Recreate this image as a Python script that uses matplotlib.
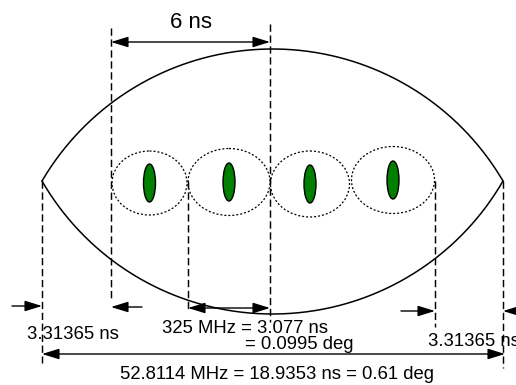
import numpy as np
import matplotlib
matplotlib.use("Agg")
import matplotlib.pyplot as plt
from matplotlib.patches import Ellipse, FancyArrowPatch

# Separatrix (bucket) outline: two tips and the apex heights of upper and lower arcs
bucket_tips_x = [42, 503]
bucket_tip_y = 181
bucket_top_apex = 49
bucket_bottom_apex = 314

# Small RF buckets and the bunches inside them
small_bucket_x = [149.5, 229, 310, 393]
small_bucket_y = [183, 182, 184, 180]
small_bucket_rx = [37.5, 41, 39.5, 41.5]
small_bucket_ry = [32, 33.5, 33, 33.5]
bunch_width = 12
bunch_height = 38

# Dashed marker lines: x, top, bottom
marker_x = [42, 111, 188, 270, 435, 503]
marker_top = [181, 28, 181, 24, 181, 181]
marker_bottom = [363, 300, 310, 322, 327, 368]

labels = {
    "top": "6 ns",
    "left": "3.31365 ns",
    "mid1": "325 MHz = 3.077 ns",
    "mid2": "= 0.0995 deg",
    "right": "3.31365 ns",
    "bottom": "52.8114 MHz = 18.9353 ns = 0.61 deg",
}

FONT = "Liberation Sans"
SIZE = 13.3

fig = plt.figure(figsize=(5.16, 3.85), dpi=100)
ax = fig.add_axes([0, 0, 1, 1])
ax.set_xlim(0, 516)
ax.set_ylim(385, 0)
ax.axis("off")


def circular_arc(x0, x1, y_tip, y_apex, n=400):
    c = (x1 - x0) / 2.0
    s = abs(y_tip - y_apex)
    r = (c * c + s * s) / (2 * s)
    xm = (x0 + x1) / 2.0
    sign = 1 if y_apex < y_tip else -1
    yc = y_apex + sign * r
    xs = np.linspace(x0, x1, n)
    ys = yc - sign * np.sqrt(np.maximum(r * r - (xs - xm) ** 2, 0))
    return xs, ys


for apex in (bucket_top_apex, bucket_bottom_apex):
    xs, ys = circular_arc(bucket_tips_x[0], bucket_tips_x[1], bucket_tip_y, apex)
    ax.plot(xs, ys, color="black", lw=1.1, solid_capstyle="round")

for cx, cy, rx, ry in zip(small_bucket_x, small_bucket_y, small_bucket_rx, small_bucket_ry):
    ax.add_patch(Ellipse((cx, cy), 2 * rx, 2 * ry, fill=False, ec="black",
                         lw=0.9, ls=(0, (1.6, 1.6))))
    ax.add_patch(Ellipse((cx, cy), bunch_width, bunch_height, fc="#007f00",
                         ec="black", lw=1.0))

for x, y0, y1 in zip(marker_x, marker_top, marker_bottom):
    ax.plot([x, x], [y0, y1], color="black", lw=1.05, ls=(0, (5, 2.5)))


def arrow(x0, y0, x1, y1, both=False):
    style = "<|-|>" if both else "-|>"
    ax.add_patch(FancyArrowPatch((x0, y0), (x1, y1),
                                 arrowstyle=f"{style},head_length=0.55,head_width=0.17",
                                 mutation_scale=19, color="black", lw=1.0,
                                 shrinkA=0, shrinkB=0))


arrow(111, 42, 270, 42, both=True)
arrow(12, 306, 42, 306)
arrow(142, 307, 111, 307)
arrow(188, 308, 270, 308, both=True)
arrow(401, 311, 435, 311)
arrow(520, 311, 503, 311)
arrow(42, 354, 505, 354, both=True)

ax.text(170, 28, labels["top"], fontsize=16, family=FONT, va="baseline", ha="left")
ax.text(27, 339, labels["left"], fontsize=SIZE, family=FONT, va="baseline", ha="left")
ax.text(162, 333, labels["mid1"], fontsize=SIZE, family=FONT, va="baseline", ha="left")
ax.text(245, 349, labels["mid2"], fontsize=SIZE, family=FONT, va="baseline", ha="left")
ax.text(428, 346, labels["right"], fontsize=SIZE, family=FONT, va="baseline", ha="left")
ax.text(120, 379, labels["bottom"], fontsize=SIZE, family=FONT, va="baseline", ha="left")

fig.savefig("out.png", dpi=100, facecolor="white")
